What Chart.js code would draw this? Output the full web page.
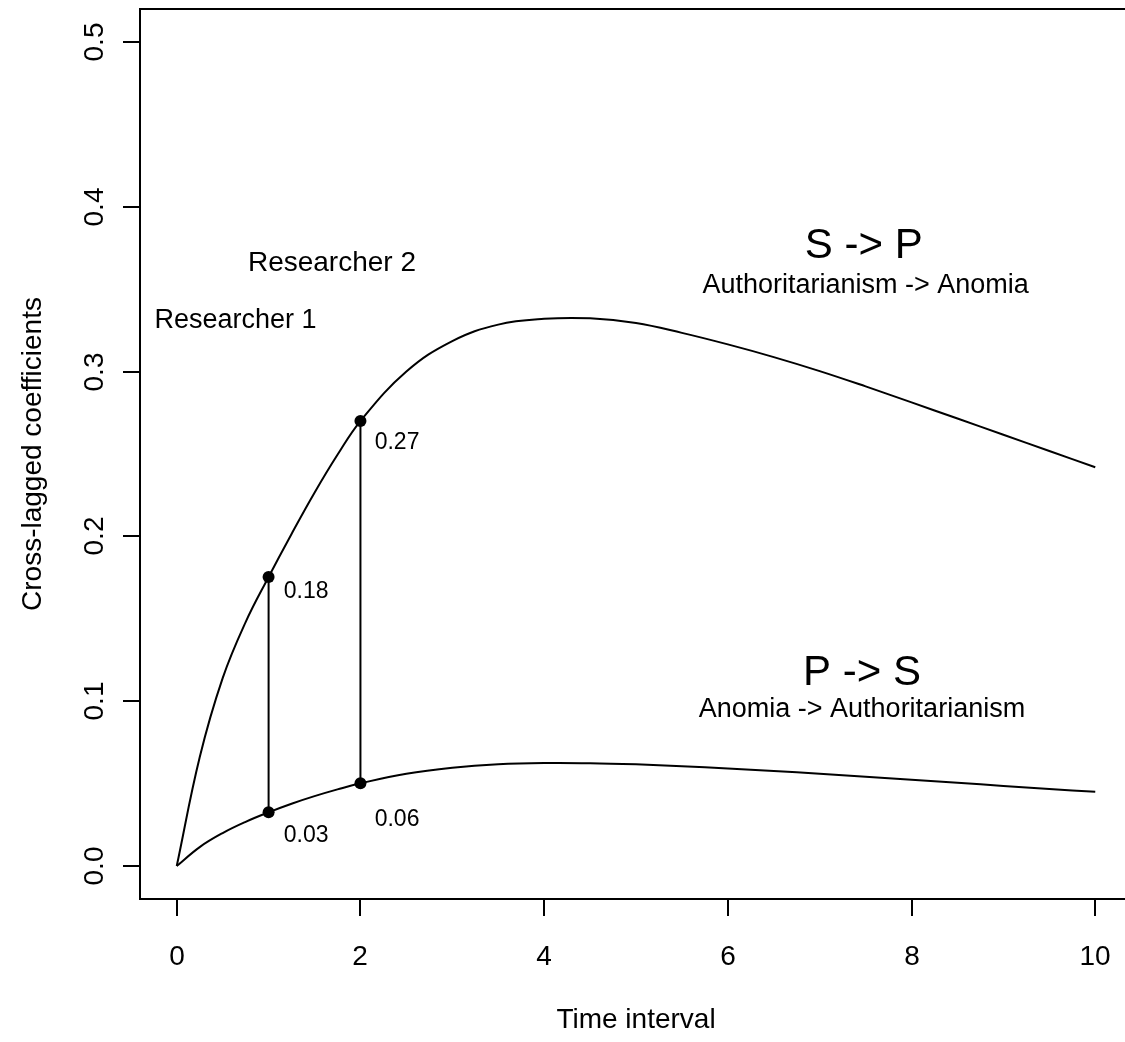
<!DOCTYPE html>
<html>
<head>
<meta charset="utf-8">
<title>Cross-lagged coefficients</title>
<script src="https://cdn.jsdelivr.net/npm/chart.js@4.4.1/dist/chart.umd.min.js"></script>
<style>
  html, body { margin: 0; padding: 0; background: #fff; overflow: hidden; }
  #wrap { width: 1140px; height: 1042px; }
</style>
</head>
<body>
<div id="wrap"><canvas id="chart" width="1140" height="1042"></canvas></div>
<script>
// time points
const times = [0, 0.25, 0.5, 0.75, 1, 1.25, 1.5, 1.75, 2, 2.5, 3, 3.5, 4, 4.5, 5, 5.5, 6, 6.5, 7, 7.5, 8, 8.5, 9, 9.5, 10];
// S -> P (Authoritarianism -> Anomia)
const spValues = [0, 0.066, 0.114, 0.148, 0.1754, 0.2015, 0.2265, 0.2495, 0.270, 0.300, 0.3185, 0.3285, 0.332, 0.3323, 0.3295, 0.3235, 0.3165, 0.3088, 0.3003, 0.2910, 0.2813, 0.2715, 0.2617, 0.2518, 0.2420];
// P -> S (Anomia -> Authoritarianism)
const psValues = [0, 0.0115, 0.0200, 0.0268, 0.0326, 0.0378, 0.0424, 0.0465, 0.0502, 0.0560, 0.0596, 0.0617, 0.0625, 0.0624, 0.0617, 0.0606, 0.0592, 0.0577, 0.0560, 0.0542, 0.0524, 0.0505, 0.0486, 0.0467, 0.0450];

// the two researchers' measurement intervals
const markTimes = [1, 2];
const markSP = [0.1754, 0.270];
const markPS = [0.0326, 0.0502];
const markLabelsSP = ["0.18", "0.27"];
const markLabelsPS = ["0.03", "0.06"];

const xTicks = [0, 2, 4, 6, 8, 10];
const yTicks = [0, 0.1, 0.2, 0.3, 0.4, 0.5];
const yTickLabels = ["0.0", "0.1", "0.2", "0.3", "0.4", "0.5"];

const FONT = '"Liberation Sans", Arial, Helvetica, sans-serif';

const toPoints = (xs, ys) => xs.map((x, i) => ({ x: x, y: ys[i] }));

const curveStyle = {
  borderColor: "#000",
  borderWidth: 2,
  pointRadius: 0,
  fill: false,
  tension: 0.4,
};

const datasets = [
  { ...curveStyle, label: "S -> P", data: toPoints(times, spValues) },
  { ...curveStyle, label: "P -> S", data: toPoints(times, psValues) },
];

// vertical segment + dots at each measurement interval
markTimes.forEach((t, i) => {
  datasets.push({
    label: "interval " + t,
    data: [{ x: t, y: markPS[i] }, { x: t, y: markSP[i] }],
    borderColor: "#000",
    borderWidth: 2,
    pointRadius: 6,
    pointBackgroundColor: "#000",
    pointBorderColor: "#000",
    pointBorderWidth: 0,
    fill: false,
    tension: 0,
  });
});

// R-style box, ticks, labels and annotations
const basePlot = {
  id: "basePlot",
  afterDraw(chart) {
    const ctx = chart.ctx;
    const xs = chart.scales.x;
    const ys = chart.scales.y;
    const area = chart.chartArea;
    ctx.save();
    ctx.strokeStyle = "#000";
    ctx.fillStyle = "#000";
    ctx.lineWidth = 2;

    // box
    ctx.strokeRect(area.left, area.top, area.right - area.left, area.bottom - area.top);

    // x axis ticks + labels
    ctx.font = "28px " + FONT;
    ctx.textAlign = "center";
    ctx.textBaseline = "middle";
    xTicks.forEach((v) => {
      const px = Math.round(xs.getPixelForValue(v));
      ctx.beginPath();
      ctx.moveTo(px, area.bottom);
      ctx.lineTo(px, area.bottom + 17);
      ctx.stroke();
      ctx.fillText(String(v), px, 957);
    });

    // y axis ticks + rotated labels
    yTicks.forEach((v, i) => {
      const py = Math.round(ys.getPixelForValue(v));
      ctx.beginPath();
      ctx.moveTo(area.left, py);
      ctx.lineTo(area.left - 17, py);
      ctx.stroke();
      ctx.save();
      ctx.translate(95, py);
      ctx.rotate(-Math.PI / 2);
      ctx.fillText(yTickLabels[i], 0, 0);
      ctx.restore();
    });

    // axis titles
    ctx.fillText("Time interval", (xs.getPixelForValue(0) + xs.getPixelForValue(10)) / 2, 1020);
    ctx.save();
    ctx.translate(33, (ys.getPixelForValue(0) + ys.getPixelForValue(0.5)) / 2);
    ctx.rotate(-Math.PI / 2);
    ctx.fillText("Cross-lagged coefficients", 0, 0);
    ctx.restore();

    const text = (str, x, y, size, align) => {
      ctx.font = size + "px " + FONT;
      ctx.textAlign = align || "center";
      ctx.fillText(str, xs.getPixelForValue(x), ys.getPixelForValue(y));
    };

    text("S -> P", 7.48, 0.376, 42);
    text("Authoritarianism -> Anomia", 7.5, 0.352, 27);
    text("P -> S", 7.46, 0.117, 42);
    text("Anomia -> Authoritarianism", 7.46, 0.095, 27);
    text("Researcher 2", 1.69, 0.366, 28);
    text("Researcher 1", 0.64, 0.331, 27);

    // value labels next to the dots
    text(markLabelsSP[0], 1.165, 0.1667, 23, "left");
    text(markLabelsSP[1], 2.155, 0.257, 23, "left");
    text(markLabelsPS[0], 1.165, 0.0187, 23, "left");
    text(markLabelsPS[1], 2.155, 0.028, 23, "left");

    ctx.restore();
  },
};

new Chart(document.getElementById("chart").getContext("2d"), {
  type: "line",
  data: { datasets: datasets },
  options: {
    responsive: false,
    animation: false,
    devicePixelRatio: 1,
    layout: { padding: { left: 140, top: 9, right: 8, bottom: 143 } },
    plugins: { legend: { display: false }, tooltip: { enabled: false } },
    scales: {
      x: { type: "linear", min: -0.4, max: 10.4, display: false },
      y: { type: "linear", min: -0.02, max: 0.52, display: false },
    },
  },
  plugins: [basePlot],
});
</script>
</body>
</html>
